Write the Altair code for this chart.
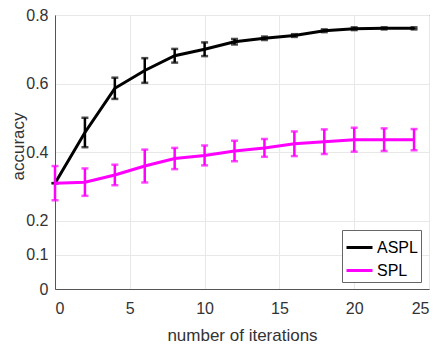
import altair as alt
import pandas as pd

iterations = [0, 2, 4, 6, 8, 10, 12, 14, 16, 18, 20, 22, 24]
aspl_mean = [0.309, 0.457, 0.586, 0.638, 0.681, 0.700, 0.722, 0.732, 0.740, 0.754, 0.760, 0.761, 0.761]
aspl_err = [0.000, 0.043, 0.031, 0.036, 0.020, 0.020, 0.008, 0.005, 0.004, 0.004, 0.004, 0.003, 0.003]
spl_mean = [0.309, 0.312, 0.333, 0.359, 0.381, 0.390, 0.403, 0.412, 0.424, 0.430, 0.436, 0.436, 0.436]
spl_err = [0.050, 0.040, 0.030, 0.048, 0.031, 0.029, 0.030, 0.026, 0.036, 0.036, 0.035, 0.033, 0.031]
methods = ["ASPL", "SPL"]
colors = ["#000000", "#ff00ff"]
x_ticks = [0, 5, 10, 15, 20, 25]
y_ticks = [0, 0.1, 0.2, 0.4, 0.6, 0.8]

rows = []
for m, means, errs in (("ASPL", aspl_mean, aspl_err), ("SPL", spl_mean, spl_err)):
    for x, v, e in zip(iterations, means, errs):
        rows.append({"iter": x, "acc": v, "lo": v - e, "hi": v + e, "method": m})
df = pd.DataFrame(rows)

W, H = 374, 274
TXT = "#333333"

xs = alt.Scale(domain=[0, 25], nice=False)
ys = alt.Scale(domain=[0, 0.8], nice=False)
cs = alt.Scale(domain=methods, range=colors)

x_axis = alt.Axis(values=x_ticks, title="number of iterations", grid=True,
                  labelPadding=11, titleBaseline="alphabetic", titleY=51)
y_axis = alt.Axis(values=y_ticks, format="~g", title="accuracy", grid=True,
                  labelPadding=7, titlePadding=-2, titleY=131)


def series(name, legend):
    base = alt.Chart(df).transform_filter(alt.datum.method == name)
    col = alt.Color("method:N", scale=cs,
                    legend=alt.Legend(title=None) if legend else None)
    line = base.mark_line(strokeWidth=3).encode(
        x=alt.X("iter:Q", scale=xs, axis=x_axis),
        y=alt.Y("acc:Q", scale=ys, axis=y_axis),
        color=col,
    )
    bars = base.mark_rule(strokeWidth=2.5).encode(
        x="iter:Q", y="lo:Q", y2="hi:Q",
        color=alt.Color("method:N", scale=cs, legend=None),
    )
    cap_lo = base.mark_tick(orient="horizontal", size=7, thickness=2.5).encode(
        x="iter:Q", y="lo:Q", color=alt.Color("method:N", scale=cs, legend=None))
    cap_hi = base.mark_tick(orient="horizontal", size=7, thickness=2.5).encode(
        x="iter:Q", y="hi:Q", color=alt.Color("method:N", scale=cs, legend=None))
    return [line, bars, cap_lo, cap_hi]


chart = alt.layer(*series("ASPL", True), *series("SPL", False)).properties(
    width=W, height=H,
    padding={"left": 47, "top": 7, "right": 2, "bottom": 55},
    autosize=alt.AutoSizeParams(type="none"),
).configure_view(
    stroke="#555555", strokeWidth=1
).configure_axis(
    labelFont="Liberation Sans", titleFont="Liberation Sans",
    labelFontSize=16, titleFontSize=17, titleFontWeight="normal",
    labelColor=TXT, titleColor=TXT, tickSize=0,
    domainColor="#555555", gridColor="#e8e8e8", gridWidth=1,
).configure_legend(
    orient="none", legendX=287, legendY=215,
    fillColor="white", strokeColor="#666666", padding=3,
    symbolType="stroke", symbolSize=676, symbolStrokeWidth=3,
    labelFont="Liberation Sans", labelFontSize=16, labelColor="#000000",
    labelOffset=3, rowPadding=-3, cornerRadius=0,
)

chart.save("out.html", embed_options={"renderer": "svg", "actions": False})
